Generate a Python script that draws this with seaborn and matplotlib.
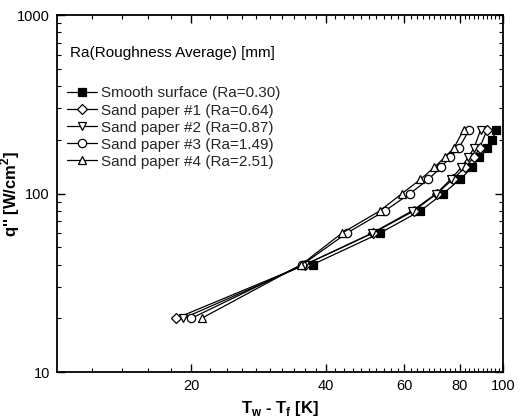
import matplotlib
matplotlib.use("Agg")
import matplotlib.pyplot as plt
import matplotlib.ticker as mticker
import seaborn as sns
import pandas as pd

sns.set_theme(style="ticks")
plt.rcParams['font.family'] = ['Liberation Sans', 'DejaVu Sans']
plt.rcParams['mathtext.fontset'] = 'custom'
plt.rcParams['mathtext.rm'] = 'Liberation Sans'
plt.rcParams['mathtext.bf'] = 'Liberation Sans:bold'

# ---- data ----
legend_title = "Ra(Roughness Average) [mm]"
labels = ["Smooth surface (Ra=0.30)", "Sand paper #1 (Ra=0.64)", "Sand paper #2 (Ra=0.87)",
          "Sand paper #3 (Ra=1.49)", "Sand paper #4 (Ra=2.51)"]
smooth_x = [37.4, 52.9, 65.2, 73.3, 80.0, 85.1, 88.3, 92.1, 94.5, 96.4]
smooth_y = [40, 60, 80, 100, 120, 140, 160, 180, 200, 228]
sp1_x = [18.5, 36.0, 51.0, 63.1, 71.0, 77.0, 82.0, 86.0, 88.5, 92.0]
sp1_y = [20, 40, 60, 80, 100, 120, 140, 160, 180, 228]
sp2_x = [19.2, 36.0, 50.8, 62.5, 70.8, 76.2, 80.5, 83.5, 86.0, 89.0]
sp2_y = [20, 40, 60, 80, 100, 120, 140, 160, 180, 228]
sp3_x = [20.0, 35.5, 44.6, 54.3, 61.8, 67.9, 72.5, 76.0, 79.5, 84.0]
sp3_y = [20, 40, 60, 80, 100, 120, 140, 160, 180, 228]
sp4_x = [21.1, 35.3, 43.5, 52.9, 59.3, 65.2, 70.0, 74.0, 77.5, 81.5]
sp4_y = [20, 40, 60, 80, 100, 120, 140, 160, 180, 228]
xticks = [20, 40, 60, 80, 100]
yticks = [10, 100, 1000]

series = [(smooth_x, smooth_y, "s", "black"),
          (sp1_x, sp1_y, "D", "white"),
          (sp2_x, sp2_y, "v", "white"),
          (sp3_x, sp3_y, "o", "white"),
          (sp4_x, sp4_y, "^", "white")]

fig = plt.figure(figsize=(5.21, 4.19), dpi=100)
ax = fig.add_axes([0.109, 0.112, 0.857, 0.852])

for (xs, ys, mk, fc), lab in zip(series, labels):
    df = pd.DataFrame({"x": xs, "y": ys})
    ms = 5 if mk == "D" else 6
    sns.lineplot(data=df, x="x", y="y", ax=ax, sort=False, color="black", lw=0.9,
                 marker=mk, markersize=ms, markerfacecolor=fc, markeredgecolor="black",
                 markeredgewidth=0.9, label=lab)

ax.set_xscale("log")
ax.set_yscale("log")
ax.set_xlim(10, 100)
ax.set_ylim(10, 1000)
ax.xaxis.set_major_locator(mticker.FixedLocator(xticks))
ax.xaxis.set_major_formatter(mticker.FixedFormatter([str(v) for v in xticks]))
ax.xaxis.set_minor_locator(mticker.FixedLocator([v for v in range(12, 100, 2) if v not in xticks]))
ax.xaxis.set_minor_formatter(mticker.NullFormatter())
ax.yaxis.set_major_locator(mticker.FixedLocator(yticks))
ax.yaxis.set_major_formatter(mticker.FixedFormatter([str(v) for v in yticks]))
ax.yaxis.set_minor_locator(mticker.LogLocator(base=10, subs=range(2, 10)))
ax.yaxis.set_minor_formatter(mticker.NullFormatter())

ax.tick_params(which="both", direction="in", top=True, right=True, color="black", labelsize=10.5,
               labelcolor="black")
ax.tick_params(which="major", length=6, width=1, pad=5)
ax.tick_params(which="minor", length=3, width=0.8)
for s in ax.spines.values():
    s.set_color("black")
    s.set_linewidth(1.3)

ax.set_xlabel(r"T$_\mathbf{w}$ - T$_\mathbf{f}$ [K]", fontsize=12, fontweight="bold", color="black")
ax.set_ylabel(r"q'' [W/cm$^\mathbf{2}$]", fontsize=12, fontweight="bold", color="black")
ax.xaxis.set_label_coords(0.5, -0.075)
ax.yaxis.set_label_coords(-0.077, 0.5)

ax.text(0.03, 0.895, legend_title, transform=ax.transAxes, fontsize=11, color="black",
        ha="left", va="center")
leg = ax.legend(loc="upper left", frameon=False, fontsize=11,
                handlelength=2.0, handletextpad=0.25, labelspacing=0.2, borderaxespad=0.0,
                borderpad=0.0)
leg.set_bbox_to_anchor((0.022, 0.8), transform=ax.transAxes)

fig.savefig("out.png", dpi=100)
